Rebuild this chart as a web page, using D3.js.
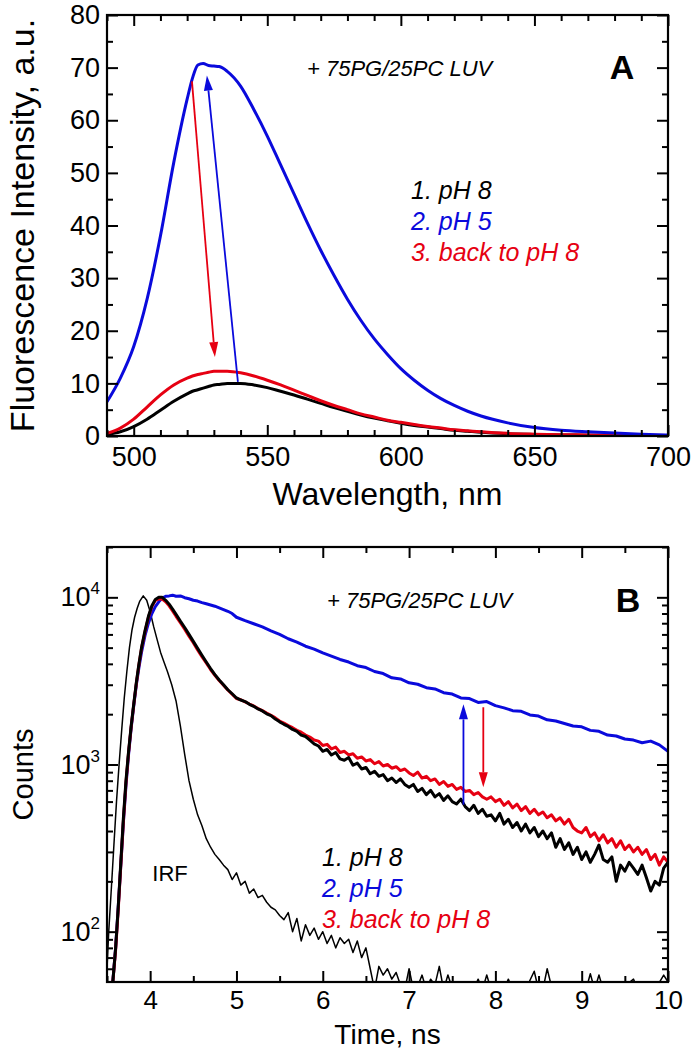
<!DOCTYPE html>
<html><head><meta charset="utf-8">
<script src="https://cdn.jsdelivr.net/npm/d3@7"></script>
<style>
body{margin:0;background:#fff}
text{font-family:"Liberation Sans",Arial,sans-serif;fill:#000}
</style>
</head><body><svg id="c" width="692" height="1050"></svg>
<script>
// ---------- Panel A data ----------
const wavelength = [490,495,500,505,510,515,520,522,524,526,528,530,532,535,540,545,550,555,560,565,570,575,580,585,590,595,600,605,610,615,620,625,630,640,650,660,670,680,690,700];
const specPH5 =   [6.5,11,17,26,38,52,64,68,70.5,70.8,70.4,70.3,70.2,69.3,66.5,62,57,51.5,46,40.5,35.3,30.5,26,22,18.5,15.5,12.8,10.6,8.7,7.1,5.8,4.7,3.8,2.5,1.6,1.1,0.8,0.55,0.35,0.2];
const specPH8 =   [0.3,0.8,1.8,3.2,4.9,6.6,8.0,8.5,8.8,9.1,9.4,9.7,9.8,10.0,10.0,9.7,9.2,8.5,7.8,7.0,6.2,5.4,4.7,4.0,3.4,2.9,2.4,2.0,1.7,1.4,1.1,0.9,0.7,0.45,0.3,0.2,0.15,0.1,0.07,0.05];
const specBack =  [0.5,1.5,3.2,5.5,7.8,9.7,11.0,11.4,11.7,11.9,12.1,12.3,12.3,12.3,12.0,11.4,10.6,9.7,8.7,7.7,6.7,5.8,5.0,4.2,3.6,3.0,2.6,2.2,1.8,1.5,1.2,1.0,0.8,0.5,0.35,0.25,0.2,0.15,0.12,0.1];
const ticksA_x = [500,550,600,650,700];
const ticksA_y = [0,10,20,30,40,50,60,70,80];
const legendLabels = ["1. pH 8","2. pH 5","3. back to pH 8"];
// arrows [x1,y1,x2,y2] in data units
const arrowA_red  = [521.8,67.4,530.4,15];
const arrowA_blue = [539,10.3,527.4,68.5];

// ---------- Panel B data ----------
const tRise = [3.56,3.60,3.63,3.66,3.69,3.72,3.75,3.78,3.81,3.84,3.87,3.90,3.94,3.98,4.02,4.06,4.10,4.14,4.18,4.22,4.26,4.30,4.35,4.40,4.45,4.50,4.55,4.60,4.65,4.70,4.75,4.80,4.85,4.90,4.95];
const risePH8 =  [45,80,140,260,480,800,1200,1700,2300,3100,4000,5000,6300,7700,8900,9700,10000,10000,9600,9100,8500,7900,7200,6600,6000,5450,4950,4500,4100,3750,3450,3200,3000,2800,2650];
const riseBack = [45,78,135,250,460,780,1180,1680,2280,3050,3950,4950,6200,7600,8800,9600,9800,9750,9400,8900,8300,7700,7050,6450,5850,5350,4850,4420,4050,3700,3420,3180,2980,2790,2630];
const risePH5 =  [45,80,140,250,450,750,1150,1650,2250,3000,3800,4700,5900,7000,8000,8800,9400,9900,10150,10200,10300,10150,10200,9950,9800,9600,9500,9300,9150,9000,8850,8650,8450,8250,8000];
const tTail = [5.00,5.05,5.10,5.15,5.20,5.25,5.30,5.35,5.40,5.45,5.50,5.55,5.60,5.65,5.70,5.75,5.80,5.85,5.90,5.95,6.00,6.05,6.10,6.15,6.20,6.25,6.30,6.35,6.40,6.45,6.50,6.55,6.60,6.65,6.70,6.75,6.80,6.85,6.90,6.95,7.00,7.05,7.10,7.15,7.20,7.25,7.30,7.35,7.40,7.45,7.50,7.55,7.60,7.65,7.70,7.75,7.80,7.85,7.90,7.95,8.00,8.05,8.10,8.15,8.20,8.25,8.30,8.35,8.40,8.45,8.50,8.55,8.60,8.65,8.70,8.75,8.80,8.85,8.90,8.95,9.00,9.05,9.10,9.15,9.20,9.25,9.30,9.35,9.40,9.45,9.50,9.55,9.60,9.65,9.70,9.75,9.80,9.85,9.90,9.95,10.00];
const tailPH8 = [2500,2430,2380,2290,2230,2150,2090,2010,1960,1870,1800,1740,1690,1620,1580,1500,1470,1400,1330,1290,1200,1230,1140,1180,1080,1060,1100,990,1020,940,960,880,910,850,870,800,830,780,820,760,730,760,690,720,660,700,640,670,610,650,600,580,620,560,530,570,510,540,490,500,460,510,440,470,420,450,400,440,390,420,370,400,360,390,320,360,310,340,290,320,270,300,260,290,330,270,260,280,200,250,230,260,240,220,250,210,175,200,190,240,260];
const tailBack = [2480,2440,2370,2300,2240,2160,2100,2030,1970,1900,1820,1770,1710,1660,1600,1560,1500,1460,1400,1380,1300,1320,1240,1270,1180,1200,1140,1160,1090,1110,1050,1070,1010,1040,980,1000,950,970,920,940,890,860,900,830,850,800,820,760,790,740,760,710,730,690,700,660,680,640,620,640,600,620,570,600,550,580,530,560,510,540,500,520,480,500,460,480,440,470,420,400,390,420,370,390,350,380,340,360,320,350,310,330,300,320,290,310,270,290,250,280,260];
const tTailPH5 = [5.0,5.1,5.2,5.3,5.4,5.5,5.6,5.7,5.8,5.9,6.0,6.1,6.2,6.3,6.4,6.5,6.6,6.7,6.8,6.9,7.0,7.1,7.2,7.3,7.4,7.5,7.6,7.7,7.8,7.9,8.0,8.1,8.2,8.3,8.4,8.5,8.6,8.7,8.8,8.9,9.0,9.1,9.2,9.3,9.4,9.5,9.6,9.7,9.8,9.9,10.0];
const tailPH5 = [7600,7250,6950,6650,6300,6000,5650,5400,5100,4900,4650,4450,4250,4100,3900,3800,3600,3500,3300,3250,3080,3020,2880,2830,2690,2640,2500,2480,2350,2380,2250,2180,2100,2080,1980,1950,1850,1820,1760,1700,1680,1600,1580,1500,1480,1420,1400,1350,1380,1310,1200];
const tIRF = [3.50,3.52,3.55,3.58,3.61,3.64,3.67,3.70,3.73,3.76,3.79,3.82,3.85,3.88,3.92,3.96,4.00,4.04,4.08,4.12,4.16,4.20,4.25,4.30,4.35,4.40,4.45,4.50,4.55,4.60,4.65,4.70,4.75,4.80,4.85,4.90,4.95,5.00,5.05,5.10,5.15,5.20,5.25,5.30,5.35,5.40,5.45,5.50,5.55,5.60,5.65,5.70,5.75,5.80,5.85,5.90,5.95,6.00,6.05,6.10,6.15,6.20,6.25,6.30,6.35,6.40,6.45,6.50,6.55,6.60,6.65,6.70,6.75,6.80,6.85,6.90,6.95,7.00,7.05,7.10,7.15,7.20,7.25,7.30,7.35,7.40,7.45,7.50,7.55,7.60,7.65,7.70,7.75,7.80,7.85,7.90,7.95,8.00,8.10,8.15,8.20,8.30,8.35,8.45,8.50,8.55,8.60,8.65,8.70,8.75,9.05,9.10,9.15,9.20,9.25,9.40,9.45,9.60,9.65,9.80,9.85,9.95,10.00];
const countsIRF = [60,100,180,330,600,1000,1600,2500,3600,5000,6400,7600,8600,9500,10200,9600,8200,6700,5600,4700,4100,3600,3000,2400,1700,1150,800,620,500,430,360,320,290,270,250,235,205,225,190,200,170,180,160,165,150,140,135,125,118,130,100,120,88,110,95,105,90,100,85,95,80,92,85,90,75,88,70,80,60,45,62,55,60,52,57,48,45,60,45,47,55,45,52,48,62,45,55,46,50,45,48,45,45,52,45,55,45,45,45,52,45,50,45,58,45,45,60,47,50,45,45,56,45,55,45,50,45,52,45,49,45,55,50];
const ticksB_x = [4,5,6,7,8,9,10];
const ticksB_y = [100,1000,10000];
const arrowB_blue = [7.63,575,7.63,2290];
const arrowB_red  = [7.86,2200,7.86,730];

const BLUE = "#0a0adc", RED = "#e60012", BLACK = "#000";

const svg = d3.select("#c");
const L = 107, R = 668;

function frameAxes(g, x, y, xTicks, xMinor, yTicks, yMinor, top, bottom, yFmt, fs, xpad) {
  const mk = (axisFn, scale, vals, size, fmt, pad) => axisFn(scale).tickValues(vals).tickSizeInner(-size).tickSizeOuter(0).tickPadding(pad).tickFormat(fmt);
  g.append("g").attr("transform", `translate(0,${bottom})`).call(mk(d3.axisBottom, x, xTicks, 11, d3.format("d"), xpad));
  g.append("g").attr("transform", `translate(0,${bottom})`).call(mk(d3.axisBottom, x, xMinor, 6, () => "", 8));
  g.append("g").attr("transform", `translate(0,${top})`).call(mk(d3.axisTop, x, xTicks, 11, () => "", 8));
  g.append("g").attr("transform", `translate(0,${top})`).call(mk(d3.axisTop, x, xMinor, 6, () => "", 8));
  const gl = g.append("g").attr("transform", `translate(${L},0)`).call(mk(d3.axisLeft, y, yTicks, 11, yFmt, 7));
  g.append("g").attr("transform", `translate(${L},0)`).call(mk(d3.axisLeft, y, yMinor, 6, () => "", 8));
  g.append("g").attr("transform", `translate(${R},0)`).call(mk(d3.axisRight, y, yTicks, 11, () => "", 8));
  g.append("g").attr("transform", `translate(${R},0)`).call(mk(d3.axisRight, y, yMinor, 6, () => "", 8));
  g.selectAll(".domain").remove();
  g.selectAll(".tick line").attr("stroke", "#000").attr("stroke-width", 2);
  g.selectAll(".tick text").attr("font-size", fs).attr("fill", "#000").attr("font-family", '"Liberation Sans",Arial,sans-serif');
  g.append("rect").attr("x", L).attr("y", top).attr("width", R - L).attr("height", bottom - top)
    .attr("fill", "none").attr("stroke", "#000").attr("stroke-width", 2.2);
  return {gl};
}

function arrow(g, x1, y1, x2, y2, color) {
  const dx = x2 - x1, dy = y2 - y1, len = Math.hypot(dx, dy);
  const ux = dx / len, uy = dy / len, hl = 15, hw = 4.5;
  const bx = x2 - ux * hl, by = y2 - uy * hl;
  g.append("line").attr("x1", x1).attr("y1", y1).attr("x2", bx).attr("y2", by)
    .attr("stroke", color).attr("stroke-width", 1.8);
  g.append("path").attr("d", `M${x2},${y2}L${bx - uy * hw},${by + ux * hw}L${bx + uy * hw},${by - ux * hw}Z`).attr("fill", color);
}

// ================= Panel A =================
{
  const top = 15, bottom = 436;
  const g = svg.append("g");
  const x = d3.scaleLinear().domain([490, 700]).range([L, R]);
  const y = d3.scaleLinear().domain([0, 80]).range([bottom, top]);
  g.append("clipPath").attr("id", "clipA").append("rect").attr("x", L).attr("y", top).attr("width", R - L).attr("height", bottom - top);
  const line = d3.line().x(d => x(d[0])).y(d => y(d[1])).curve(d3.curveMonotoneX);
  const series = [[specPH8, BLACK], [specBack, RED], [specPH5, BLUE]];
  series.forEach(([vals, col]) => {
    g.append("path").attr("clip-path", "url(#clipA)").datum(wavelength.map((w, i) => [w, vals[i]]))
      .attr("d", line).attr("fill", "none").attr("stroke", col).attr("stroke-width", 3).attr("stroke-linejoin", "round");
  });
  const xMinor = d3.range(490, 701, 10).filter(v => v % 50 !== 0);
  const yMinor = d3.range(5, 80, 10);
  frameAxes(g, x, y, ticksA_x, xMinor, ticksA_y, yMinor, top, bottom, d3.format("d"), 27, 11);
  arrow(g, x(arrowA_red[0]), y(arrowA_red[1]), x(arrowA_red[2]), y(arrowA_red[3]), RED);
  arrow(g, x(arrowA_blue[0]), y(arrowA_blue[1]), x(arrowA_blue[2]), y(arrowA_blue[3]), BLUE);
  g.append("text").attr("x", 307).attr("y", 76).attr("font-size", 22).attr("font-style", "italic").text("+ 75PG/25PC LUV");
  g.append("text").attr("x", 622).attr("y", 79).attr("font-size", 34).attr("font-weight", "bold").attr("text-anchor", "middle").text("A");
  const cols = [BLACK, BLUE, RED];
  legendLabels.forEach((t, i) => g.append("text").attr("x", 411).attr("y", 199 + i * 31).attr("font-size", 25)
    .attr("font-style", "italic").style("fill", cols[i]).text(t));
  g.append("text").attr("x", (L + R) / 2).attr("y", 505).attr("text-anchor", "middle").attr("font-size", 32).text("Wavelength, nm");
  g.append("text").attr("transform", `translate(34,${(top + bottom) / 2}) rotate(-90)`).attr("text-anchor", "middle").attr("font-size", 34).text("Fluorescence Intensity, a.u.");
}

// ================= Panel B =================
{
  const top = 547, bottom = 982;
  const g = svg.append("g");
  const x = d3.scaleLinear().domain([3.5, 10]).range([L, R]);
  const y = d3.scaleLog().domain([50, 20000]).range([bottom, top]);
  g.append("clipPath").attr("id", "clipB").append("rect").attr("x", L).attr("y", top).attr("width", R - L).attr("height", bottom - top);
  const line = d3.line().x(d => x(d[0])).y(d => y(d[1]));
  const zipT = (ts, vs) => ts.map((t, i) => [t, vs[i]]);
  g.append("path").attr("clip-path", "url(#clipB)").datum(zipT(tIRF, countsIRF)).attr("d", line)
    .attr("fill", "none").attr("stroke", BLACK).attr("stroke-width", 1.5).attr("stroke-linejoin", "round");
  const sets = [
    [zipT(tRise, risePH5).concat(zipT(tTailPH5, tailPH5)), BLUE],
    [zipT(tRise, riseBack).concat(zipT(tTail, tailBack)), RED],
    [zipT(tRise, risePH8).concat(zipT(tTail, tailPH8)), BLACK]
  ];
  sets.forEach(([d, col]) => g.append("path").attr("clip-path", "url(#clipB)").datum(d).attr("d", line)
    .attr("fill", "none").attr("stroke", col).attr("stroke-width", 3).attr("stroke-linejoin", "round"));
  const xMinor = d3.range(3.5, 10.01, 0.5).filter(v => Math.abs(v - Math.round(v)) > 0.1);
  const yMinor = [60,70,80,90,200,300,400,500,600,700,800,900,2000,3000,4000,5000,6000,7000,8000,9000,20000];
  const {gl} = frameAxes(g, x, y, ticksB_x, xMinor, ticksB_y, yMinor, top, bottom, () => "", 26, 9);
  gl.selectAll(".tick text").attr("font-size", 27).each(function(d) {
    const t = d3.select(this);
    t.text(null);
    t.append("tspan").text("10");
    t.append("tspan").attr("dy", -12).attr("font-size", 17).text(Math.round(Math.log10(d)));
  });
  arrow(g, x(arrowB_blue[0]), y(arrowB_blue[1]), x(arrowB_blue[2]), y(arrowB_blue[3]), BLUE);
  arrow(g, x(arrowB_red[0]), y(arrowB_red[1]), x(arrowB_red[2]), y(arrowB_red[3]), RED);
  g.append("text").attr("x", 327).attr("y", 608).attr("font-size", 22).attr("font-style", "italic").text("+ 75PG/25PC LUV");
  g.append("text").attr("x", 628).attr("y", 612).attr("font-size", 34).attr("font-weight", "bold").attr("text-anchor", "middle").text("B");
  const cols = [BLACK, BLUE, RED];
  legendLabels.forEach((t, i) => g.append("text").attr("x", 322).attr("y", 866 + i * 31).attr("font-size", 25)
    .attr("font-style", "italic").style("fill", cols[i]).text(t));
  g.append("text").attr("x", 170).attr("y", 881).attr("text-anchor", "middle").attr("font-size", 22).text("IRF");
  g.append("text").attr("x", (L + R) / 2).attr("y", 1044).attr("text-anchor", "middle").attr("font-size", 28).text("Time, ns");
  g.append("text").attr("transform", `translate(33,${(top + bottom) / 2 + 10}) rotate(-90)`).attr("text-anchor", "middle").attr("font-size", 29).text("Counts");
}
</script></body></html>
